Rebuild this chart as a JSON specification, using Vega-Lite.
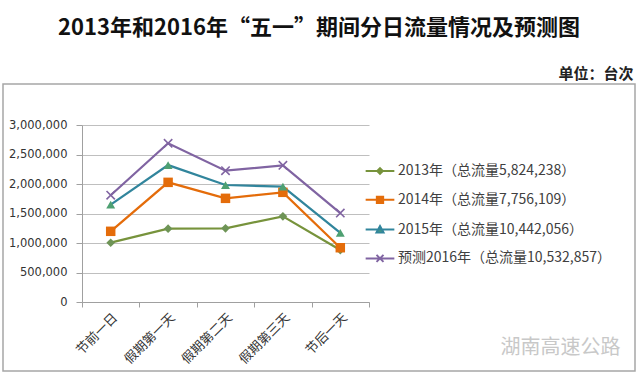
{
  "$schema": "https://vega.github.io/schema/vega-lite/v6.json",
  "width": 632,
  "height": 287,
  "autosize": {"type": "none"},
  "padding": {"left": 3, "top": 84, "right": 5, "bottom": 10},
  "background": "white",
  "config": {"view": {"stroke": "#A6A6A6", "strokeWidth": 1.5}},
  "title": {"text": "2013年和2016年“五一”期间分日流量情况及预测图", "font": "Noto Sans CJK SC", "fontSize": 22, "fontWeight": "bold", "color": "#111111", "anchor": "middle", "frame": "group", "offset": 26},
  "data": {"values": [
    {"day": "节前一日", "series": "2013年（总流量5,824,238）", "value": 1005000},
    {"day": "假期第一天", "series": "2013年（总流量5,824,238）", "value": 1243000},
    {"day": "假期第二天", "series": "2013年（总流量5,824,238）", "value": 1249000},
    {"day": "假期第三天", "series": "2013年（总流量5,824,238）", "value": 1452000},
    {"day": "节后一天", "series": "2013年（总流量5,824,238）", "value": 880000},
    {"day": "节前一日", "series": "2014年（总流量7,756,109）", "value": 1198000},
    {"day": "假期第一天", "series": "2014年（总流量7,756,109）", "value": 2028000},
    {"day": "假期第二天", "series": "2014年（总流量7,756,109）", "value": 1757000},
    {"day": "假期第三天", "series": "2014年（总流量7,756,109）", "value": 1859000},
    {"day": "节后一天", "series": "2014年（总流量7,756,109）", "value": 920000},
    {"day": "节前一日", "series": "2015年（总流量10,442,056）", "value": 1650000},
    {"day": "假期第一天", "series": "2015年（总流量10,442,056）", "value": 2320000},
    {"day": "假期第二天", "series": "2015年（总流量10,442,056）", "value": 1983000},
    {"day": "假期第三天", "series": "2015年（总流量10,442,056）", "value": 1954000},
    {"day": "节后一天", "series": "2015年（总流量10,442,056）", "value": 1170000},
    {"day": "节前一日", "series": "预测2016年（总流量10,532,857）", "value": 1810000},
    {"day": "假期第一天", "series": "预测2016年（总流量10,532,857）", "value": 2690000},
    {"day": "假期第二天", "series": "预测2016年（总流量10,532,857）", "value": 2225000},
    {"day": "假期第三天", "series": "预测2016年（总流量10,532,857）", "value": 2317000},
    {"day": "节后一天", "series": "预测2016年（总流量10,532,857）", "value": 1508000}
  ]},
  "encoding": {
    "x": {"field": "day", "type": "nominal", "sort": ["节前一日", "假期第一天", "假期第二天", "假期第三天", "节后一天"],
      "scale": {"type": "band", "domain": ["节前一日", "假期第一天", "假期第二天", "假期第三天", "节后一天"], "range": [79, 366], "paddingInner": 0, "paddingOuter": 0},
      "axis": {"offset": -69, "tickBand": "extent", "domainColor": "#A0A0A0", "tickColor": "#A0A0A0", "tickSize": 5, "labelAngle": -45, "labelFont": "Noto Sans CJK SC", "labelFontSize": 13, "labelColor": "#333333", "labelPadding": 4, "grid": false,
        "title": "湖南高速公路", "titleX": 617, "titleY": 45, "titleAlign": "right", "titleBaseline": "middle", "titleColor": "#C8C8C8", "titleFont": "Noto Sans CJK SC", "titleFontSize": 20, "titleFontWeight": "normal"}},
    "y": {"field": "value", "type": "quantitative",
      "scale": {"domain": [0, 3000000], "range": [218, 41], "nice": false, "zero": true},
      "axis": {"offset": -79, "values": [0, 500000, 1000000, 1500000, 2000000, 2500000, 3000000], "format": ",d", "grid": true, "gridColor": "#BFBFBF", "domainColor": "#A0A0A0", "tickColor": "#A0A0A0", "tickSize": 6, "labelPadding": 9, "labelFont": "DejaVu Sans", "labelFontSize": 11.5, "labelColor": "#333333",
        "title": "单位：台次", "titleAngle": 0, "titleX": 551, "titleY": -11, "titleAlign": "right", "titleBaseline": "middle", "titleFont": "Noto Sans CJK SC", "titleFontSize": 15, "titleFontWeight": "bold", "titleColor": "#222222"}}
  },
  "layer": [
    {
      "mark": {"type": "line", "strokeWidth": 2.25},
      "encoding": {
        "color": {"field": "series", "type": "nominal",
          "scale": {"domain": ["2013年（总流量5,824,238）", "2014年（总流量7,756,109）", "2015年（总流量10,442,056）", "预测2016年（总流量10,532,857）"], "range": ["#77933C", "#E46C0A", "#31859C", "#8064A2"]},
          "legend": {"orient": "none", "legendX": 370, "legendY": 80, "title": null, "padding": 0, "symbolSize": 49, "labelOffset": 11, "rowPadding": 13.8, "labelFont": "Noto Sans CJK SC", "labelFontSize": 14, "labelColor": "#404040", "labelLimit": 400,
            "encode": {"symbols": {"update": {
              "fill": [
                {"test": "datum.value === '2013年（总流量5,824,238）'", "value": "#6E9456"},
                {"test": "datum.value === '2014年（总流量7,756,109）'", "value": "#E46C0A"},
                {"test": "datum.value === '2015年（总流量10,442,056）'", "value": "#4EA072"},
                {"value": "#8064A2"}
              ],
              "stroke": {"scale": "color", "field": "value"},
              "strokeWidth": {"value": 2},
              "opacity": {"value": 1},
              "shape": [
                {"test": "datum.value === '2013年（总流量5,824,238）'", "value": "M-4.1,0L4.1,0M0,-0.8L0.8,0L0,0.8L-0.8,0Z"},
                {"test": "datum.value === '2014年（总流量7,756,109）'", "value": "M-4.1,0L4.1,0M-0.9,-0.9L0.9,-0.9L0.9,0.9L-0.9,0.9Z"},
                {"test": "datum.value === '2015年（总流量10,442,056）'", "value": "M-4.1,0L4.1,0M0,-1L1,0.8L-1,0.8Z"},
                {"value": "M-4.1,0L4.1,0M-1,-1L1,1M-1,1L1,-1"}
              ]
            }}}}
        }
      }
    },
    {
      "transform": [{"filter": {"field": "series", "equal": "2013年（总流量5,824,238）"}}],
      "mark": {"type": "point", "shape": "diamond", "filled": true, "size": 75, "color": "#6E9456", "opacity": 1}
    },
    {
      "transform": [{"filter": {"field": "series", "equal": "2014年（总流量7,756,109）"}}],
      "mark": {"type": "point", "shape": "square", "filled": true, "size": 90, "color": "#E46C0A", "opacity": 1}
    },
    {
      "transform": [{"filter": {"field": "series", "equal": "2015年（总流量10,442,056）"}}],
      "mark": {"type": "point", "shape": "triangle-up", "filled": true, "size": 80, "color": "#4EA072", "opacity": 1}
    },
    {
      "transform": [{"filter": {"field": "series", "equal": "预测2016年（总流量10,532,857）"}}],
      "mark": {"type": "point", "shape": "M-1,-1L1,1M-1,1L1,-1", "filled": false, "size": 70, "color": "#8064A2", "strokeWidth": 1.6, "opacity": 1}
    }
  ]
}
